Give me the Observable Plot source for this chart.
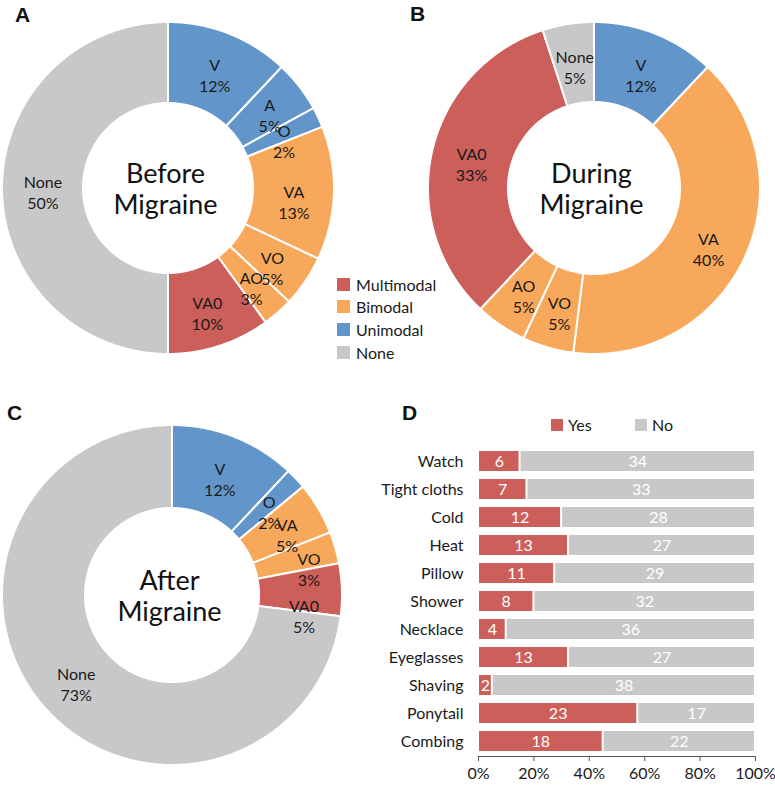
<!DOCTYPE html>
<html>
<head>
<meta charset="utf-8">
<script src="https://cdn.jsdelivr.net/npm/d3@7"></script>
<script src="https://cdn.jsdelivr.net/npm/@observablehq/plot@0.6"></script>
<style>
  body { margin: 0; background: #fff; font-family: Lato, "Open Sans", sans-serif; }
  #root { position: relative; width: 775px; height: 785px; overflow: hidden; background: #fff; }
  #root > * { position: absolute; }
  .letter { font-family: "Liberation Sans", Arial, sans-serif; font-weight: bold; font-size: 21px; line-height: 1; color: #111; }
  .legrow { display: flex; align-items: center; height: 22.6px; font-size: 16px; color: #1a1a1a; white-space: nowrap; }
  .sw { display: inline-block; width: 13px; height: 13px; margin-right: 6px; }
  .dleg { display: flex; align-items: center; font-size: 16px; color: #1a1a1a; white-space: nowrap; }
  .dleg .sw { width: 12px; height: 12px; margin-right: 5px; }
</style>
</head>
<body>
<div id="root"></div>
<script>
// ---- Data ----
const groupOrder = ["Multimodal", "Bimodal", "Unimodal", "None"];
const groupColors = ["#CD5F5B", "#F8A85A", "#6296CA", "#C8C8C8"];

const beforeLabels = ["V", "A", "O", "VA", "VO", "AO", "VA0", "None"];
const beforeValues = [12, 5, 2, 13, 5, 3, 10, 50];
const beforeGroups = ["Unimodal", "Unimodal", "Unimodal", "Bimodal", "Bimodal", "Bimodal", "Multimodal", "None"];

const duringLabels = ["V", "VA", "VO", "AO", "VA0", "None"];
const duringValues = [12, 40, 5, 5, 33, 5];
const duringGroups = ["Unimodal", "Bimodal", "Bimodal", "Bimodal", "Multimodal", "None"];

const afterLabels = ["V", "O", "VA", "VO", "VA0", "None"];
const afterValues = [12, 2, 5, 3, 5, 73];
const afterGroups = ["Unimodal", "Unimodal", "Bimodal", "Bimodal", "Multimodal", "None"];

const triggers = ["Watch", "Tight cloths", "Cold", "Heat", "Pillow", "Shower", "Necklace", "Eyeglasses", "Shaving", "Ponytail", "Combing"];
const yesCounts = [6, 7, 12, 13, 11, 8, 4, 13, 2, 23, 18];
const noCounts = [34, 33, 28, 27, 29, 32, 36, 27, 38, 17, 22];
const answerOrder = ["Yes", "No"];
const answerColors = ["#CD5F5B", "#C8C8C8"];
const xTicks = [0, 0.2, 0.4, 0.6, 0.8, 1];

// label nudges (pixels) mimicking the original label placement
const beforeNudgeX = [0, 2, 2, 0, 0, 0, 0, 0];
const beforeNudgeY = [0, 0, 3, 6, 6, 2, 2, 0];
const duringNudgeX = [0, 0, 0, 0, 0, 0];
const duringNudgeY = [0, 4, 0, 0, 0, 0];
const afterNudgeX = [0, 3, 4, 13, 3, 0];
const afterNudgeY = [0, 1, 2, 6, 21, 0];

const FONT = "Lato, 'Open Sans', sans-serif";
const root = document.getElementById("root");

function place(el, left, top) {
  el.style.left = left + "px";
  el.style.top = top + "px";
  root.appendChild(el);
  return el;
}

// ---- Donut builder ----
function donut(labels, values, groups, nx, ny, title, R, rIn, size) {
  const arcs = d3.pie().sort(null).value(d => d)(values);
  const pts = [];
  arcs.forEach((a, i) => {
    const n = Math.max(2, Math.ceil((a.endAngle - a.startAngle) / (Math.PI / 360)));
    for (let k = 0; k <= n; k++) {
      const t = a.startAngle + (a.endAngle - a.startAngle) * k / n;
      pts.push({slice: labels[i], group: groups[i],
        x1: rIn * Math.sin(t), y1: rIn * Math.cos(t),
        x2: R * Math.sin(t), y2: R * Math.cos(t)});
    }
  });
  const rm = (R + rIn) / 2;
  const lab = arcs.map((a, i) => {
    const t = (a.startAngle + a.endAngle) / 2;
    return {x: rm * Math.sin(t) + nx[i], y: rm * Math.cos(t) - ny[i], text: labels[i] + "\n" + values[i] + "%"};
  });
  return Plot.plot({
    width: size, height: size, margin: 0,
    x: {domain: [-size / 2, size / 2], axis: null},
    y: {domain: [-size / 2, size / 2], axis: null},
    color: {domain: groupOrder, range: groupColors},
    style: {background: "transparent", fontFamily: FONT, overflow: "visible"},
    marks: [
      Plot.area(pts, {x1: "x1", y1: "y1", x2: "x2", y2: "y2", z: "slice", fill: "group", stroke: "white", strokeWidth: 2}),
      Plot.text(lab, {x: "x", y: "y", text: "text", fontSize: 16, lineHeight: 1.32, fill: "#1a1a1a", dy: 3}),
      Plot.text([title], {frameAnchor: "middle", text: d => d, fontSize: 27, lineHeight: 1.16, fill: "#111", dx: -3})
    ]
  });
}

const SIZE = 360;
place(donut(beforeLabels, beforeValues, beforeGroups, beforeNudgeX, beforeNudgeY, "Before\nMigraine", 166, 85, SIZE), 168 - SIZE / 2, 188 - SIZE / 2);
place(donut(duringLabels, duringValues, duringGroups, duringNudgeX, duringNudgeY, "During\nMigraine", 166, 86, SIZE), 594 - SIZE / 2, 188 - SIZE / 2);
place(donut(afterLabels, afterValues, afterGroups, afterNudgeX, afterNudgeY, "After\nMigraine", 170, 87, SIZE), 172 - SIZE / 2, 595 - SIZE / 2);

// ---- Bar chart D ----
const rows = [];
triggers.forEach((c, i) => {
  rows.push({cat: c, type: "Yes", value: yesCounts[i]});
  rows.push({cat: c, type: "No", value: noCounts[i]});
});

const bars = Plot.plot({
  width: 385, height: 355,
  marginLeft: 88, marginRight: 20, marginTop: 17, marginBottom: 29,
  x: {domain: [0, 1]},
  y: {domain: triggers, paddingInner: 0.27, paddingOuter: 0.135},
  color: {domain: answerOrder, range: answerColors},
  style: {background: "transparent", fontFamily: FONT, fontSize: "16px", color: "#1a1a1a", overflow: "visible"},
  marks: [
    Plot.barX(rows, Plot.stackX({x: "value", y: "cat", fill: "type", offset: "normalize", insetLeft: 1, insetRight: 1})),
    Plot.text(rows, Plot.stackX({x: "value", y: "cat", z: "type", offset: "normalize", text: "value", fill: "white", fontSize: 16})),
    Plot.frame({anchor: "bottom", stroke: "#555"}),
    Plot.axisX({ticks: xTicks, tickFormat: d3.format(".0%"), tickSize: 5, tickPadding: 6, label: null, stroke: "#555", fontSize: 16}),
    Plot.axisY({tickSize: 0, tickPadding: 15, label: null, fontSize: 16})
  ]
});
place(bars, 390, 430);

// ---- Donut legend ----
const leg = document.createElement("div");
groupOrder.forEach((g, i) => {
  const row = document.createElement("div");
  row.className = "legrow";
  row.innerHTML = `<span class="sw" style="background:${groupColors[i]}"></span><span>${g}</span>`;
  leg.appendChild(row);
});
place(leg, 337, 273);

// ---- Bar legend ----
const legPos = [551, 635];
answerOrder.forEach((a, i) => {
  const d = document.createElement("div");
  d.className = "dleg";
  d.innerHTML = `<span class="sw" style="background:${answerColors[i]}"></span><span>${a}</span>`;
  place(d, legPos[i], 415);
});

// ---- Panel letters ----
const letters = ["A", "B", "C", "D"];
const letterPos = [[15, 4], [410, 3], [7, 402], [402, 402]];
letters.forEach((l, i) => {
  const d = document.createElement("div");
  d.className = "letter";
  d.textContent = l;
  place(d, letterPos[i][0], letterPos[i][1]);
});
</script>
</body>
</html>
